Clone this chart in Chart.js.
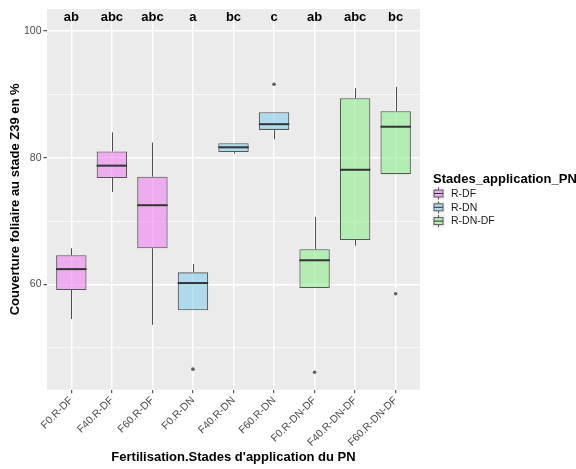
<!DOCTYPE html>
<html>
<head>
<meta charset="utf-8">
<script src="https://cdn.jsdelivr.net/npm/chart.js@4/dist/chart.umd.min.js"></script>
<style>
  html, body { margin: 0; padding: 0; background: #ffffff; }
  #wrap { width: 576px; height: 469px; }
</style>
</head>
<body>
<div id="wrap"><canvas id="c" width="576" height="469"></canvas></div>
<script>
// Groups on the x axis (fertilisation level . application stages)
const categories = ['F0.R-DF', 'F40.R-DF', 'F60.R-DF', 'F0.R-DN', 'F40.R-DN', 'F60.R-DN', 'F0.R-DN-DF', 'F40.R-DN-DF', 'F60.R-DN-DF'];
const stades = ['R-DF', 'R-DF', 'R-DF', 'R-DN', 'R-DN', 'R-DN', 'R-DN-DF', 'R-DN-DF', 'R-DN-DF'];
const stadeLevels = ['R-DF', 'R-DN', 'R-DN-DF'];

// Box statistics (leaf cover at Z39, %)
const whiskerLow  = [54.5, 74.6, 53.6, 55.9, 80.65, 82.9, 59.4, 66.1, 77.4];
const q1          = [59.1, 76.8, 65.7, 55.9, 80.9, 84.4, 59.4, 67.0, 77.4];
const median      = [62.4, 78.75, 72.5, 60.2, 81.65, 85.3, 63.8, 78.1, 84.9];
const q3          = [64.6, 81.0, 77.0, 61.9, 82.3, 87.2, 65.55, 89.4, 87.35];
const whiskerHigh = [65.7, 84.0, 82.4, 63.2, 82.3, 87.2, 70.65, 91.0, 91.2];

// Outlying observations
const outlierGroup = ['F0.R-DN', 'F60.R-DN', 'F0.R-DN-DF', 'F60.R-DN-DF'];
const outlierValue = [46.6, 91.6, 46.1, 58.5];

// Significance group letters above each box
const letters = ['ab', 'abc', 'abc', 'a', 'bc', 'c', 'ab', 'abc', 'bc'];
const LETTER_Y = 102.1;

// Axis ticks
const yMajorTicks = [60, 80, 100];
const yMinorTicks = [50, 70, 90];

const FONT = '"Liberation Sans", Arial, Helvetica, sans-serif';
const fillByStade = {
  'R-DF': 'rgba(238,130,238,0.6)',
  'R-DN': 'rgba(135,206,235,0.6)',
  'R-DN-DF': 'rgba(144,238,144,0.6)'
};
const PANEL_BG = '#EBEBEB';
const BOX_LINE = '#575757';
const WHISKER = '#4D4D4D';
const MEDIAN = '#333333';

const panelBackground = {
  id: 'panelBackground',
  beforeDraw(chart) {
    const { ctx, chartArea: a } = chart;
    ctx.save();
    ctx.fillStyle = PANEL_BG;
    ctx.fillRect(a.left, a.top, a.right - a.left, a.bottom - a.top);
    ctx.restore();
  }
};

// Whiskers, medians and group letters, positioned through the chart scales
const boxDetails = {
  id: 'boxDetails',
  afterDatasetsDraw(chart) {
    const { ctx } = chart;
    const ys = chart.scales.y;
    const bars = chart.getDatasetMeta(0).data;
    ctx.save();
    bars.forEach((bar, i) => {
      const cx = Math.round(bar.x) + 0.5;
      const half = bar.width / 2;
      ctx.strokeStyle = WHISKER;
      ctx.lineWidth = 1;
      ctx.beginPath();
      ctx.moveTo(cx, ys.getPixelForValue(q3[i]));
      ctx.lineTo(cx, ys.getPixelForValue(whiskerHigh[i]));
      ctx.moveTo(cx, ys.getPixelForValue(q1[i]));
      ctx.lineTo(cx, ys.getPixelForValue(whiskerLow[i]));
      ctx.stroke();
      ctx.strokeStyle = MEDIAN;
      ctx.lineWidth = 2;
      const my = ys.getPixelForValue(median[i]);
      ctx.beginPath();
      ctx.moveTo(bar.x - half, my);
      ctx.lineTo(bar.x + half, my);
      ctx.stroke();
    });
    ctx.fillStyle = '#000000';
    ctx.font = 'bold 13px ' + FONT;
    ctx.textAlign = 'center';
    ctx.textBaseline = 'middle';
    const xs = chart.scales.x;
    letters.forEach((t, i) => {
      ctx.fillText(t, xs.getPixelForValue(i), ys.getPixelForValue(LETTER_Y));
    });
    ctx.restore();
  }
};

// Legend with small boxplot keys
const boxLegend = {
  id: 'boxLegend',
  afterDraw(chart) {
    const { ctx } = chart;
    const x0 = 433;
    ctx.save();
    ctx.fillStyle = '#000000';
    ctx.font = 'bold 13px ' + FONT;
    ctx.textAlign = 'left';
    ctx.textBaseline = 'alphabetic';
    ctx.fillText('Stades_application_PN', x0, 183);
    stadeLevels.forEach((s, k) => {
      const cy = 193.5 + k * 13.8;
      ctx.fillStyle = '#F2F2F2';
      ctx.fillRect(x0 - 1, cy - 6.5, 13, 13);
      const cx = x0 + 5.5;
      ctx.strokeStyle = WHISKER;
      ctx.lineWidth = 1;
      ctx.beginPath();
      ctx.moveTo(cx, cy - 6);
      ctx.lineTo(cx, cy + 6);
      ctx.stroke();
      ctx.fillStyle = PANEL_BG;
      ctx.fillRect(x0 + 1, cy - 3.5, 9, 7);
      ctx.fillStyle = fillByStade[s];
      ctx.fillRect(x0 + 1, cy - 3.5, 9, 7);
      ctx.strokeStyle = BOX_LINE;
      ctx.strokeRect(x0 + 1, cy - 3.5, 9, 7);
      ctx.strokeStyle = MEDIAN;
      ctx.beginPath();
      ctx.moveTo(x0 + 1, cy);
      ctx.lineTo(x0 + 10, cy);
      ctx.stroke();
      ctx.fillStyle = '#1A1A1A';
      ctx.font = '10.5px ' + FONT;
      ctx.textBaseline = 'middle';
      ctx.fillText(s, x0 + 18, cy + 0.5);
      ctx.textBaseline = 'alphabetic';
    });
    ctx.restore();
  }
};

const boxData = categories.map((c, i) => ({ x: i, y: [q1[i], q3[i]] }));
const outlierData = outlierGroup.map((g, k) => ({ x: categories.indexOf(g), y: outlierValue[k] }));

new Chart(document.getElementById('c'), {
  type: 'bar',
  data: {
    datasets: [
      {
        type: 'bar',
        data: boxData,
        backgroundColor: stades.map(s => fillByStade[s]),
        borderColor: BOX_LINE,
        borderWidth: 1.1,
        borderSkipped: false,
        categoryPercentage: 0.75,
        barPercentage: 1.0,
        grouped: false
      },
      {
        type: 'scatter',
        data: outlierData,
        pointRadius: 1.8,
        pointBorderWidth: 0,
        pointBackgroundColor: '#5E5E5E'
      }
    ]
  },
  plugins: [panelBackground, boxDetails, boxLegend],
  options: {
    responsive: false,
    animation: false,
    layout: { padding: { top: 9, right: 156, bottom: 0, left: 0 } },
    plugins: {
      legend: { display: false },
      tooltip: { enabled: false }
    },
    scales: {
      x: {
        type: 'linear',
        offset: false,
        min: -0.6,
        max: categories.length - 0.4,
        afterBuildTicks(scale) {
          scale.ticks = categories.map((c, i) => ({ value: i }));
        },
        afterFit(scale) { scale.height = 79.3; },
        border: { display: false },
        grid: {
          offset: false,
          color: '#FFFFFF',
          lineWidth: 1.4,
          tickColor: '#333333',
          tickWidth: 1,
          tickLength: 3.5
        },
        ticks: {
          autoSkip: false,
          maxRotation: 45,
          minRotation: 45,
          padding: 1,
          color: '#4D4D4D',
          font: { family: FONT, size: 10.5 },
          callback: v => categories[v]
        },
        title: {
          display: true,
          text: "Fertilisation.Stades d'application du PN",
          color: '#000000',
          font: { family: FONT, size: 13, weight: 'bold' },
          padding: { top: 0, bottom: 4 }
        }
      },
      y: {
        min: 43.35,
        max: 103.5,
        afterBuildTicks(scale) {
          scale.ticks = yMinorTicks.concat(yMajorTicks).sort((a, b) => a - b).map(v => ({ value: v }));
        },
        afterFit(scale) { scale.width = 47; },
        border: { display: false },
        grid: {
          color: '#FFFFFF',
          lineWidth: ctx => (yMajorTicks.includes(ctx.tick && ctx.tick.value) ? 1.4 : 0.7),
          tickColor: ctx => (yMajorTicks.includes(ctx.tick && ctx.tick.value) ? '#333333' : 'rgba(0,0,0,0)'),
          tickWidth: 1,
          tickLength: 3.5
        },
        ticks: {
          autoSkip: false,
          padding: 2,
          color: '#4D4D4D',
          font: { family: FONT, size: 10.5 },
          callback: v => (yMajorTicks.includes(v) ? String(v) : '')
        },
        title: {
          display: true,
          text: 'Couverture foliaire au stade Z39 en %',
          color: '#000000',
          font: { family: FONT, size: 13, weight: 'bold' },
          padding: { top: 8, bottom: 0 }
        }
      }
    }
  }
});
</script>
</body>
</html>
